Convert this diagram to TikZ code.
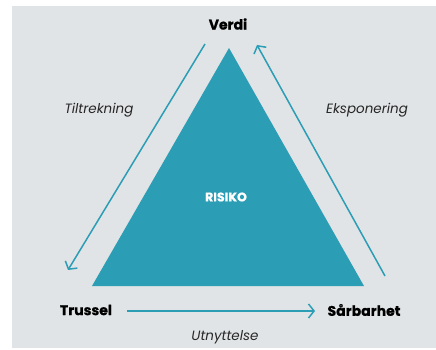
\documentclass[tikz,border=0pt]{standalone}
\usepackage{fontspec}
\setmainfont{Poppins}[BoldFeatures={FakeBold=0.8}]
\usetikzlibrary{arrows.meta}
\definecolor{riskteal}{HTML}{2B9DB5}
\definecolor{riskgray}{HTML}{E1E4E6}
\tikzset{>/.tip={Straight Barb[length=5.5pt,width=14pt,line width=1.5pt]},
  corner/.style={font=\bfseries\fontsize{14}{16}\selectfont, text=black},
  flow/.style={font=\itshape\fontsize{13.5}{16}\selectfont, text=black!85},
  link/.style={->, draw=riskteal, line width=1.5pt}}

\begin{document}
\begin{tikzpicture}[x=1pt,y=-1pt]
\useasboundingbox (0,0) rectangle (436,350);
\fill[white] (0,0) rectangle (436,350);
\fill[riskgray] (12,6) rectangle (436,348);

% triangle
\coordinate (top) at (229,48);
\coordinate (left) at (92,286);
\coordinate (right) at (364,286);
\fill[riskteal] (top) -- (left) -- (right) -- cycle;
\node (risk) at (226,197) {\bfseries\color{white}\fontsize{12.5}{14}\selectfont RISIKO};

\node[corner] (verdi) at (228,24) {Verdi};
\node[corner] (trussel) at (86,310) {Trussel};
\node[corner] (sarbarhet) at (364,310) {Sårbarhet};

\coordinate (a1) at (205,44);
\coordinate (a2) at (68,270);
\coordinate (b1) at (385,276);
\coordinate (b2) at (257,45);
\coordinate (c1) at (127,311);
\coordinate (c2) at (315,311);

\draw[link] (a1) -- (a2);
\draw[link] (b1) -- (b2);
\draw[link] (c1) -- (c2);

\node[flow] (tiltrekning) at (99,110) {Tiltrekning};
\node[flow] (eksponering) at (367,110) {Eksponering};
\node[flow] (utnyttelse) at (225,337) {Utnyttelse};
\end{tikzpicture}
\end{document}
